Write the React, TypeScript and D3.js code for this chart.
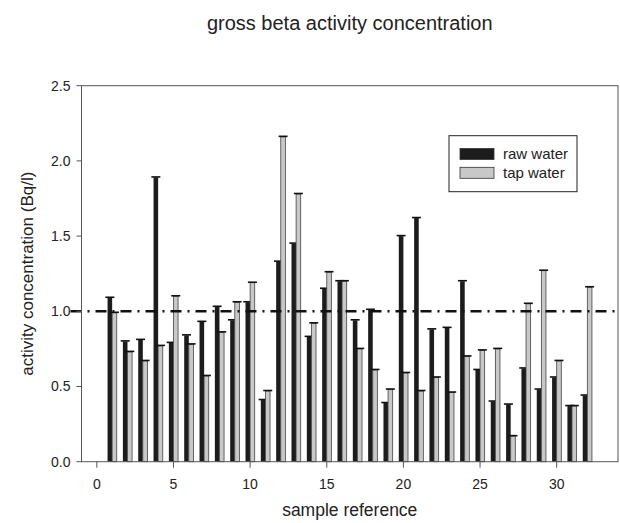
import React, { useEffect, useRef } from 'react';
import * as d3 from 'd3';

const samples = [1, 2, 3, 4, 5, 6, 7, 8, 9, 10, 11, 12, 13, 14, 15, 16, 17, 18, 19, 20, 21, 22, 23, 24, 25, 26, 27, 28, 29, 30, 31, 32];
const rawWater = [1.09, 0.80, 0.81, 1.89, 0.79, 0.84, 0.93, 1.03, 0.94, 1.06, 0.41, 1.33, 1.45, 0.83, 1.15, 1.20, 0.94, 1.01, 0.39, 1.50, 1.62, 0.88, 0.89, 1.20, 0.61, 0.40, 0.38, 0.62, 0.48, 0.56, 0.37, 0.44];
const tapWater = [0.99, 0.73, 0.67, 0.77, 1.10, 0.78, 0.57, 0.86, 1.06, 1.19, 0.47, 2.16, 1.78, 0.92, 1.26, 1.20, 0.75, 0.61, 0.48, 0.59, 0.47, 0.56, 0.46, 0.70, 0.74, 0.75, 0.17, 1.05, 1.27, 0.67, 0.37, 1.16];
const xTicks = [0, 5, 10, 15, 20, 25, 30];
const yTicks = [0, 0.5, 1.0, 1.5, 2.0, 2.5];
const limit = 1.0;

const series = [
  { name: 'raw water', values: rawWater, fill: '#1c1c1c', offset: -1 },
  { name: 'tap water', values: tapWater, fill: '#c8c8c8', offset: 0 },
];

function App() {
  const ref = useRef<SVGSVGElement>(null);

  useEffect(() => {
    const width = 620;
    const height = 523;
    const left = 81.5, right = 618, top = 85.7, bottom = 461.7;
    const font = "'Liberation Sans', Arial, sans-serif";
    const ink = '#222';
    const axisColor = '#555';

    const svg = d3.select(ref.current);
    svg.selectAll('*').remove();
    svg.attr('width', width).attr('height', height).attr('font-family', font);

    const x = d3.scaleLinear().domain([-1, 34]).range([left, right]);
    const y = d3.scaleLinear().domain([0, 2.5]).range([bottom, top]);
    const barW = 0.3; // in x units

    // bars
    series.forEach((s) => {
      const g = svg.append('g');
      g.selectAll('rect')
        .data(s.values)
        .enter()
        .append('rect')
        .attr('x', (d, i) => x(samples[i] + s.offset * barW))
        .attr('y', (d) => y(d))
        .attr('width', x(barW) - x(0))
        .attr('height', (d) => y(0) - y(d))
        .attr('fill', s.fill)
        .attr('stroke', s.offset === 0 ? '#444' : 'none')
        .attr('stroke-width', 0.8);
      // caps
      g.selectAll('line')
        .data(s.values)
        .enter()
        .append('line')
        .attr('x1', (d, i) => x(samples[i] + (s.offset + 0.5) * barW) - 4.5)
        .attr('x2', (d, i) => x(samples[i] + (s.offset + 0.5) * barW) + 4.5)
        .attr('y1', (d) => y(d) - 0.5)
        .attr('y2', (d) => y(d) - 0.5)
        .attr('stroke', '#111')
        .attr('stroke-width', 1.6);
    });

    // reference line
    svg
      .append('line')
      .attr('x1', left - 11)
      .attr('x2', right)
      .attr('y1', y(limit))
      .attr('y2', y(limit))
      .attr('stroke', '#111')
      .attr('stroke-width', 2.4)
      .attr('stroke-dasharray', '11,6,2,6');

    // frame
    svg
      .append('rect')
      .attr('x', left)
      .attr('y', top)
      .attr('width', right - left)
      .attr('height', bottom - top)
      .attr('fill', 'none')
      .attr('stroke', axisColor)
      .attr('stroke-width', 1);

    // y axis
    const yAxis = svg.append('g');
    yAxis
      .selectAll('line')
      .data(yTicks)
      .enter()
      .append('line')
      .attr('x1', left - 5)
      .attr('x2', left)
      .attr('y1', (d) => y(d))
      .attr('y2', (d) => y(d))
      .attr('stroke', axisColor);
    yAxis
      .selectAll('text')
      .data(yTicks)
      .enter()
      .append('text')
      .attr('x', left - 11)
      .attr('y', (d) => y(d))
      .attr('dy', '0.35em')
      .attr('text-anchor', 'end')
      .attr('font-size', 14)
      .attr('fill', ink)
      .text((d) => d3.format('.1f')(d));

    // x axis
    const xAxis = svg.append('g');
    xAxis
      .selectAll('line')
      .data(xTicks)
      .enter()
      .append('line')
      .attr('x1', (d) => x(d))
      .attr('x2', (d) => x(d))
      .attr('y1', bottom)
      .attr('y2', bottom + 6)
      .attr('stroke', axisColor);
    xAxis
      .selectAll('text')
      .data(xTicks)
      .enter()
      .append('text')
      .attr('x', (d) => x(d))
      .attr('y', bottom + 27)
      .attr('text-anchor', 'middle')
      .attr('font-size', 14)
      .attr('fill', ink)
      .text((d) => d);

    // titles
    svg
      .append('text')
      .attr('x', (left + right) / 2)
      .attr('y', 30)
      .attr('text-anchor', 'middle')
      .attr('font-size', 20)
      .attr('fill', ink)
      .text('gross beta activity concentration');
    svg
      .append('text')
      .attr('x', (left + right) / 2)
      .attr('y', 516)
      .attr('text-anchor', 'middle')
      .attr('font-size', 17.5)
      .attr('fill', ink)
      .text('sample reference');
    svg
      .append('text')
      .attr('transform', `translate(33,${(top + bottom) / 2}) rotate(-90)`)
      .attr('text-anchor', 'middle')
      .attr('font-size', 17)
      .attr('fill', ink)
      .text('activity concentration (Bq/l)');

    // legend
    const lg = svg.append('g');
    lg.append('rect')
      .attr('x', 449)
      .attr('y', 135.7)
      .attr('width', 128)
      .attr('height', 56)
      .attr('fill', 'white')
      .attr('stroke', '#222')
      .attr('stroke-width', 1);
    series.forEach((s, i) => {
      lg.append('rect')
        .attr('x', 460)
        .attr('y', 148.5 + i * 18.8)
        .attr('width', 34)
        .attr('height', 11)
        .attr('fill', s.fill)
        .attr('stroke', '#333')
        .attr('stroke-width', 0.8);
      lg.append('text')
        .attr('x', 503)
        .attr('y', 159.3 + i * 18.8)
        .attr('font-size', 15)
        .attr('fill', ink)
        .text(s.name);
    });
  }, []);

  return (
    <div style={{ position: 'absolute', left: 0, top: 0 }}>
      <svg ref={ref}></svg>
    </div>
  );
}

export default App;
